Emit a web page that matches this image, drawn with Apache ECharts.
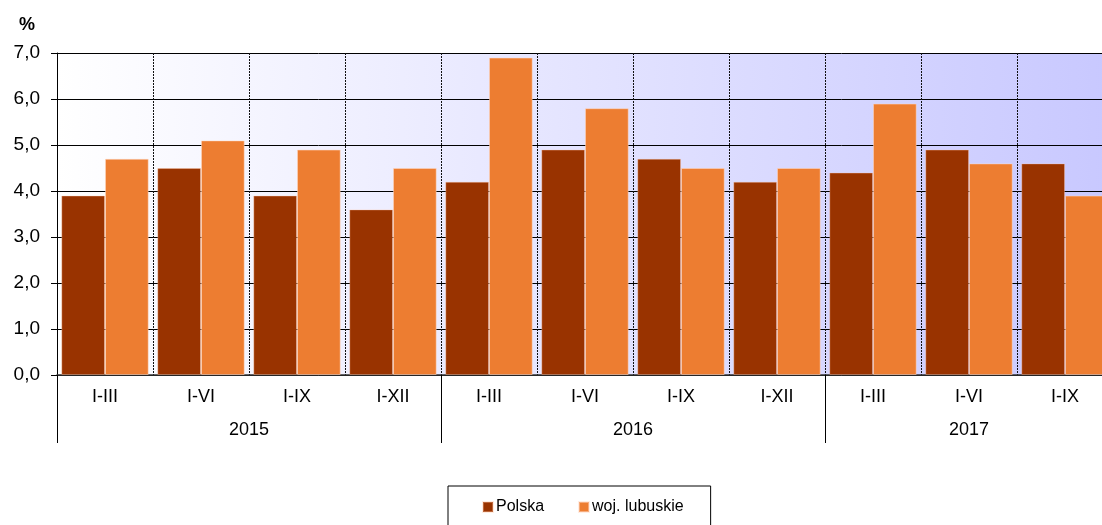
<!DOCTYPE html>
<html>
<head>
<meta charset="utf-8">
<script src="https://cdn.jsdelivr.net/npm/echarts@6/dist/echarts.min.js"></script>
<style>html,body{margin:0;padding:0;background:#fff}#c{width:1102px;height:525px}</style>
</head>
<body>
<div id="c"></div>
<script>
const categories = ['I-III','I-VI','I-IX','I-XII','I-III','I-VI','I-IX','I-XII','I-III','I-VI','I-IX'];
const polska = [3.9, 4.5, 3.9, 3.6, 4.2, 4.9, 4.7, 4.2, 4.4, 4.9, 4.6];
const lubuskie = [4.7, 5.1, 4.9, 4.5, 6.9, 5.8, 4.5, 4.5, 5.9, 4.6, 3.9];
const years = ['2015', '2016', '2017'];
const yearStarts = [0, 4, 8];
const yearCenters = [2, 6, 9.5];
const seriesNames = ['Polska', 'woj. lubuskie'];

const FONT = 'Liberation Sans, Arial, sans-serif';
const chart = echarts.init(document.getElementById('c'));
chart.setOption({
  animation: false,
  textStyle: { fontFamily: FONT, color: '#000' },
  title: { text: '%', left: 19, top: 16, padding: 0,
    textStyle: { fontFamily: FONT, fontSize: 18, fontWeight: 'bold', color: '#000' } },
  grid: { left: 57, top: 53, right: -11, bottom: 150, show: true, borderWidth: 0,
    outerBoundsMode: 'none', containLabel: false,
    backgroundColor: { type: 'linear', x: 0, y: 0, x2: 1, y2: 0,
      colorStops: [{ offset: 0, color: '#ffffff' }, { offset: 1, color: '#c8c8ff' }] } },
  legend: {
    data: seriesNames, left: 448, top: 486, padding: [13, 27, 13, 34],
    itemGap: 34, itemWidth: 10, itemHeight: 10, icon: 'rect',
    borderColor: '#000', borderWidth: 1,
    textStyle: { fontFamily: FONT, fontSize: 16, color: '#000', padding: [0, 0, 0, -2] }
  },
  xAxis: [
    { type: 'category', data: categories, boundaryGap: true,
      axisLine: { show: true, lineStyle: { color: '#333', width: 1.5 } },
      axisTick: { show: false },
      axisLabel: { fontFamily: FONT, fontSize: 18, color: '#000', margin: 13 },
      splitLine: { show: true, lineStyle: { type: [2, 1], color: '#111', width: 1 } } },
    { type: 'value', min: 0, max: categories.length, position: 'bottom',
      axisLine: { show: false },
      axisTick: { show: true, customValues: yearStarts, length: 68, inside: false,
        lineStyle: { color: '#000', width: 1 } },
      axisLabel: { show: true, customValues: yearCenters, margin: 46,
        fontFamily: FONT, fontSize: 18, color: '#000',
        formatter: function (v) { const i = yearCenters.indexOf(v); return i >= 0 ? years[i] : ''; } },
      splitLine: { show: false } }
  ],
  yAxis: { type: 'value', min: 0, max: 7, interval: 1,
    axisLine: { show: true, lineStyle: { color: '#000', width: 1 } },
    axisTick: { show: true, length: 6, lineStyle: { color: '#000' } },
    axisLabel: { fontFamily: FONT, fontSize: 19, color: '#000', margin: 17,
      formatter: function (v) { return v.toFixed(1).replace('.', ','); } },
    splitLine: { show: true, lineStyle: { color: '#000', width: 1 } } },
  series: [
    { name: seriesNames[0], type: 'bar', xAxisIndex: 0, data: polska, barGap: '0%', barCategoryGap: '9%',
      itemStyle: { color: '#993300', borderColor: 'rgba(255,200,170,0.35)', borderWidth: 1 } },
    { name: seriesNames[1], type: 'bar', xAxisIndex: 0, data: lubuskie, barGap: '0%', barCategoryGap: '9%',
      itemStyle: { color: '#ED7D31', borderColor: 'rgba(255,220,200,0.5)', borderWidth: 1 } }
  ]
});
</script>
</body>
</html>
